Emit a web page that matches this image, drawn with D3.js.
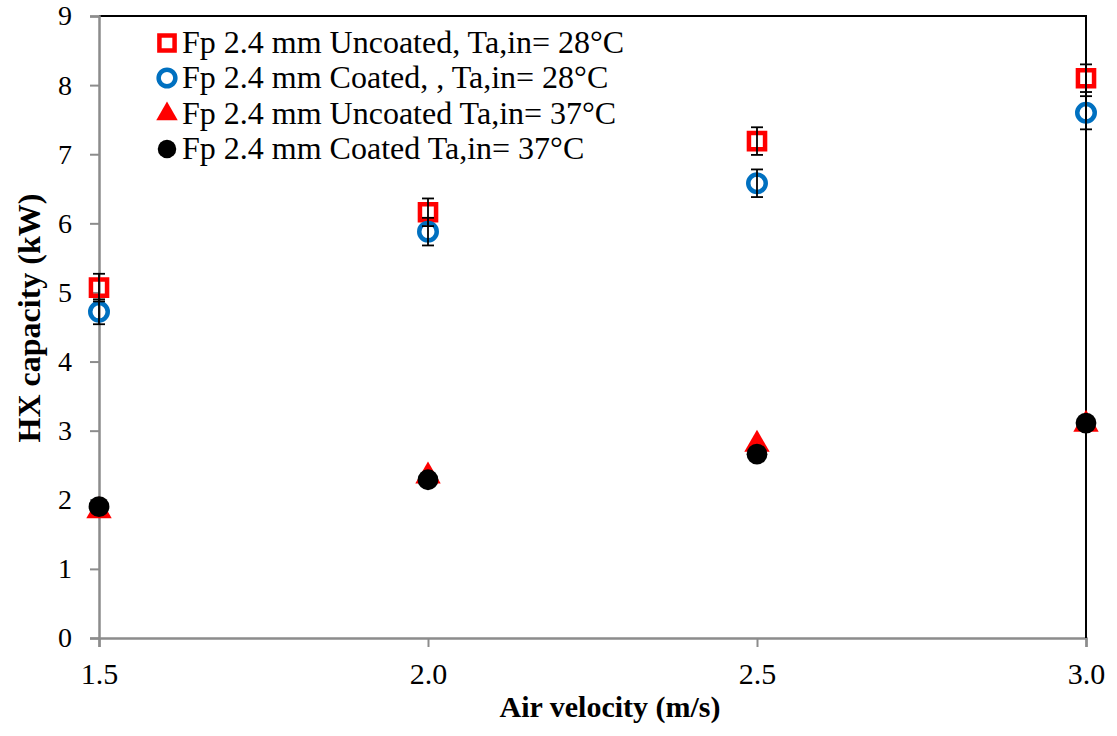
<!DOCTYPE html>
<html>
<head>
<meta charset="utf-8">
<script src="https://cdn.jsdelivr.net/npm/d3@7"></script>
<style>
  body { margin: 0; background: #fff; }
  text { font-family: "Liberation Serif", "Times New Roman", serif; }
</style>
</head>
<body>
<div id="container"></div>
<script>
/* ---------- DATA ---------- */
const velocity = [1.5, 2.0, 2.5, 3.0];
const uncoated28 = [5.07, 6.16, 7.19, 8.10];
const coated28 = [4.72, 5.88, 6.58, 7.60];
const uncoated37 = [1.84, 2.34, 2.80, 3.09];
const coated37 = [1.90, 2.29, 2.66, 3.11];
const errUncoated28 = [0.2, 0.2, 0.2, 0.2];
const errCoated28 = [0.18, 0.2, 0.2, 0.24];
const xTicks = [1.5, 2.0, 2.5, 3.0];
const yTicks = [0, 1, 2, 3, 4, 5, 6, 7, 8, 9];
const legendLabels = [
  "Fp 2.4 mm Uncoated, Ta,in= 28°C",
  "Fp 2.4 mm Coated, , Ta,in= 28°C",
  "Fp 2.4 mm Uncoated Ta,in= 37°C",
  "Fp 2.4 mm Coated Ta,in= 37°C"
];

/* ---------- CONSTANTS ---------- */
const width = 1117,
  height = 736,
  margin = { top: 16, bottom: 98, left: 99, right: 31 };

const svg = d3.select("#container")
  .append("svg")
  .attr("width", width)
  .attr("height", height);

// + SCALES
const xScale = d3.scaleLinear()
  .domain([1.5, 3.0])
  .range([margin.left, width - margin.right]);

const yScale = d3.scaleLinear()
  .domain([0, 9])
  .range([height - margin.bottom, margin.top]);

// plot area border (top + right in black)
svg.append("path")
  .attr("d", `M${xScale(1.5)},${yScale(9)} H${xScale(3.0)} V${yScale(0)}`)
  .attr("fill", "none")
  .attr("stroke", "#000")
  .attr("stroke-width", 2);

// + AXES
const xAxis = d3.axisBottom(xScale)
  .tickValues(xTicks)
  .tickFormat(d3.format(".1f"))
  .tickSize(9)
  .tickPadding(16);

const yAxis = d3.axisLeft(yScale)
  .tickValues(yTicks)
  .tickFormat(d3.format("d"))
  .tickSize(9)
  .tickPadding(18);

const gx = svg.append("g")
  .attr("transform", `translate(0,${yScale(0)})`)
  .call(xAxis);

const gy = svg.append("g")
  .attr("transform", `translate(${margin.left},0)`)
  .call(yAxis);

[gx, gy].forEach(g => {
  g.attr("font-family", null);
  g.select(".domain").attr("stroke", "#8c8c8c").attr("stroke-width", 2.5);
  g.selectAll(".tick line").attr("stroke", "#8c8c8c").attr("stroke-width", 2);
  g.selectAll(".tick text")
    .attr("fill", "#000")
    .style("font-family", "'Liberation Serif', 'Times New Roman', serif");
});
gx.selectAll(".tick text").style("font-size", "30px");
gy.selectAll(".tick text").style("font-size", "28px");

// re-draw right border over the last x tick
svg.append("line")
  .attr("x1", xScale(3.0)).attr("x2", xScale(3.0))
  .attr("y1", yScale(9)).attr("y2", yScale(0))
  .attr("stroke", "#000").attr("stroke-width", 2);

// + AXIS TITLES
svg.append("text")
  .attr("x", 610)
  .attr("y", 717)
  .attr("text-anchor", "middle")
  .style("font-size", "30px")
  .style("font-weight", "bold")
  .text("Air velocity (m/s)");

svg.append("text")
  .attr("transform", `translate(40,318) rotate(-90)`)
  .attr("text-anchor", "middle")
  .style("font-size", "32px")
  .style("font-weight", "bold")
  .text("HX capacity (kW)");

// + ERROR BARS
function errorBars(values, errs) {
  const g = svg.append("g");
  velocity.forEach((v, i) => {
    const x = xScale(v), y1 = yScale(values[i] + errs[i]), y2 = yScale(values[i] - errs[i]);
    g.append("line").attr("x1", x).attr("x2", x).attr("y1", y1).attr("y2", y2);
    g.append("line").attr("x1", x - 6).attr("x2", x + 6).attr("y1", y1).attr("y2", y1);
    g.append("line").attr("x1", x - 6).attr("x2", x + 6).attr("y1", y2).attr("y2", y2);
  });
  g.selectAll("line").attr("stroke", "#000").attr("stroke-width", 1.8);
}

// + MARKERS
const squareSym = d3.symbol().type(d3.symbolSquare).size(260);
const circleSym = d3.symbol().type(d3.symbolCircle).size(240);
const triSym = d3.symbol().type(d3.symbolTriangle).size(280);
const dotSym = d3.symbol().type(d3.symbolCircle).size(340);

svg.append("g")
  .selectAll("path")
  .data(velocity.map((v, i) => [v, uncoated28[i]]))
  .join("path")
  .attr("d", squareSym)
  .attr("transform", d => `translate(${xScale(d[0])},${yScale(d[1])})`)
  .attr("fill", "none")
  .attr("stroke", "#ff0000")
  .attr("stroke-width", 4.5);

svg.append("g")
  .selectAll("path")
  .data(velocity.map((v, i) => [v, coated28[i]]))
  .join("path")
  .attr("d", circleSym)
  .attr("transform", d => `translate(${xScale(d[0])},${yScale(d[1])})`)
  .attr("fill", "none")
  .attr("stroke", "#0070c0")
  .attr("stroke-width", 4.5);

errorBars(uncoated28, errUncoated28);
errorBars(coated28, errCoated28);

svg.append("g")
  .selectAll("path")
  .data(velocity.map((v, i) => [v, uncoated37[i]]))
  .join("path")
  .attr("d", triSym)
  .attr("transform", d => `translate(${xScale(d[0])},${yScale(d[1])})`)
  .attr("fill", "#ff0000");

svg.append("g")
  .selectAll("path")
  .data(velocity.map((v, i) => [v, coated37[i]]))
  .join("path")
  .attr("d", dotSym)
  .attr("transform", d => `translate(${xScale(d[0])},${yScale(d[1])})`)
  .attr("fill", "#000");

// + LEGEND
const legend = svg.append("g");
const legendStyles = [
  { sym: d3.symbol().type(d3.symbolSquare).size(230), fill: "none", stroke: "#ff0000" },
  { sym: d3.symbol().type(d3.symbolCircle).size(220), fill: "none", stroke: "#0070c0" },
  { sym: d3.symbol().type(d3.symbolTriangle).size(200), fill: "#ff0000", stroke: "none" },
  { sym: d3.symbol().type(d3.symbolCircle).size(270), fill: "#000", stroke: "none" }
];
const legendRows = [43, 78, 114, 149];
legendLabels.forEach((label, i) => {
  const y = legendRows[i];
  const s = legendStyles[i];
  legend.append("path")
    .attr("d", s.sym)
    .attr("transform", `translate(167,${y})`)
    .attr("fill", s.fill)
    .attr("stroke", s.stroke)
    .attr("stroke-width", 4.5);
  legend.append("text")
    .attr("x", 182)
    .attr("y", y + 10)
    .style("font-size", "32px")
    .text(label);
});
</script>
</body>
</html>
